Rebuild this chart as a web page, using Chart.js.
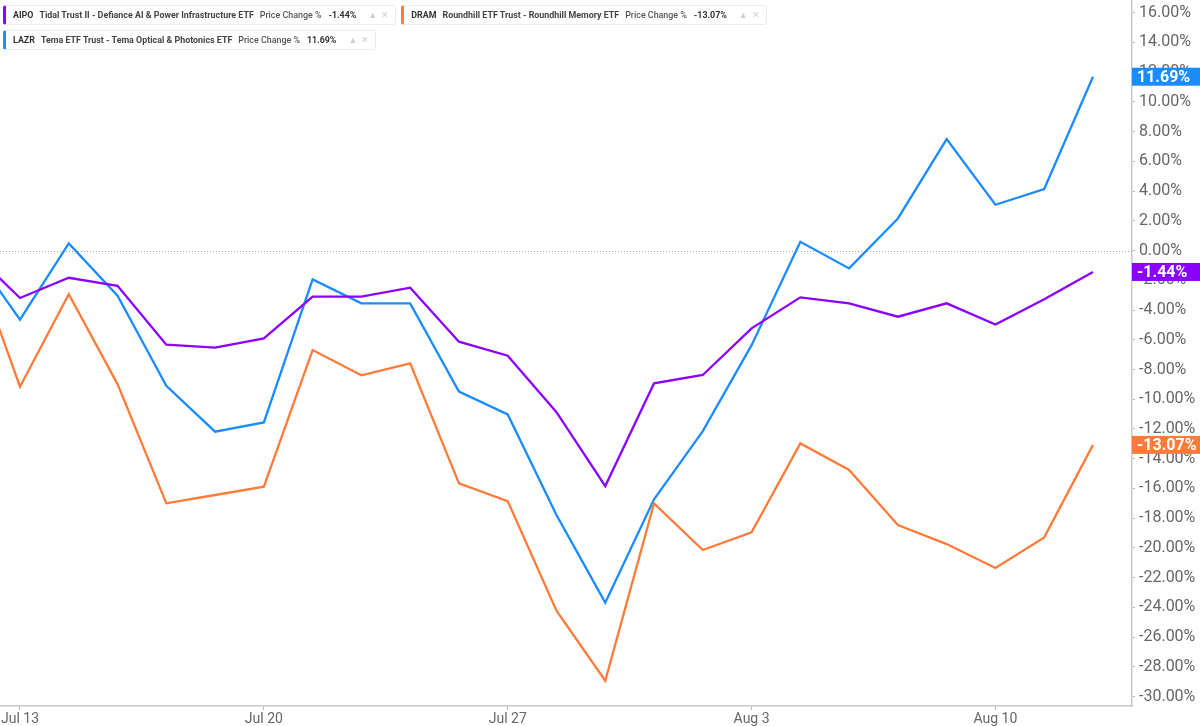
<!DOCTYPE html>
<html>
<head>
<meta charset="utf-8">
<script src="https://cdn.jsdelivr.net/npm/chart.js@4.4.0/dist/chart.umd.min.js"></script>
<style>
  html, body { margin: 0; padding: 0; background: #fff; }
  #wrap { position: relative; width: 1200px; height: 726px; }
  #legend { position: absolute; left: 3px; top: 5px; width: 1100px; font-family: 'Roboto', sans-serif; font-size: 8.9px; }
  .row { display: flex; gap: 5px; margin-bottom: 5px; }
  .item { display: flex; align-items: center; height: 18px; border: 1px solid #ececec; border-left: 3px solid; border-radius: 3px; padding: 0 6px 0 7px; background: #fff; white-space: nowrap; }
  .sym { font-weight: 700; color: #333; margin-right: 6px; }
  .nm { font-weight: 700; color: #444; margin-right: 6px; }
  .pc { font-weight: 500; color: #555; margin-right: 7px; }
  .val { font-weight: 700; color: #333; margin-right: 8px; }
  .ic { color: #cfcfcf; font-size: 9px; margin-left: 4px; }
</style>
</head>
<body>
<div id="wrap">
  <canvas id="chart"></canvas>
  <div id="legend"></div>
</div>
<script>
// dias de pregão (Jul 10 é a base = 0%)
const dates = ['Jul 10', 'Jul 13', 'Jul 14', 'Jul 15', 'Jul 16', 'Jul 17',
    'Jul 20', 'Jul 21', 'Jul 22', 'Jul 23', 'Jul 24',
    'Jul 27', 'Jul 28', 'Jul 29', 'Jul 30', 'Jul 31',
    'Aug 3', 'Aug 4', 'Aug 5', 'Aug 6', 'Aug 7',
    'Aug 10', 'Aug 11', 'Aug 12'];

const aipo = [0, -3.19, -1.83, -2.37, -6.33, -6.53, -5.91, -3.10, -3.10, -2.50, -6.13,
    -7.07, -10.87, -15.84, -8.93, -8.37, -5.23, -3.15, -3.55, -4.45, -3.55, -4.97, -3.28, -1.44];
const dram = [0, -9.16, -2.93, -8.98, -17.00, -16.44, -15.88, -6.69, -8.39, -7.59, -15.66,
    -16.85, -24.22, -28.93, -17.00, -20.14, -18.95, -12.97, -14.76, -18.46, -19.74, -21.35, -19.29, -13.07];
const lazr = [0, -4.65, 0.48, -3.04, -9.09, -12.18, -11.56, -1.94, -3.55, -3.55, -9.49,
    -11.02, -17.79, -23.68, -16.73, -12.14, -6.36, 0.59, -1.20, 2.16, 7.50, 3.08, 4.14, 11.69];

const xTickIdx = [1, 6, 11, 16, 21]; // Jul 13, Jul 20, Jul 27, Aug 3, Aug 10

const series = [
    { sym: 'AIPO', name: 'Tidal Trust II - Defiance AI & Power Infrastructure ETF', data: aipo, color: '#8b00ff' },
    { sym: 'DRAM', name: 'Roundhill ETF Trust - Roundhill Memory ETF', data: dram, color: '#ff7b3a' },
    { sym: 'LAZR', name: 'Tema ETF Trust - Tema Optical & Photonics ETF', data: lazr, color: '#1a8cff' }
];

const fmtPct = v => v.toFixed(2) + '%';

// legenda em HTML (caixinhas no topo)
const legend = document.getElementById('legend');
const rows = [[series[0], series[1]], [series[2]]];
rows.forEach(r => {
    const row = document.createElement('div');
    row.className = 'row';
    r.forEach(s => {
        const last = s.data[s.data.length - 1];
        const it = document.createElement('div');
        it.className = 'item';
        it.style.borderLeftColor = s.color;
        it.innerHTML = '<span class="sym">' + s.sym + '</span><span class="nm">' + s.name +
            '</span><span class="pc">Price Change %</span><span class="val">' + fmtPct(last) +
            '</span><span class="ic">&#9650;</span><span class="ic">&#10005;</span>';
        row.appendChild(it);
    });
    legend.appendChild(row);
});

// linha pontilhada no zero + etiquetas de último valor no eixo
const overlays = {
    id: 'overlays',
    beforeDatasetsDraw(chart) {
        const { ctx, chartArea, scales } = chart;
        const y0 = Math.round(scales.y.getPixelForValue(0)) + 0.5;
        ctx.save();
        ctx.strokeStyle = '#a8a8a8';
        ctx.lineWidth = 1;
        ctx.setLineDash([1, 2]);
        ctx.beginPath();
        ctx.moveTo(chartArea.left, y0);
        ctx.lineTo(chartArea.right, y0);
        ctx.stroke();
        ctx.restore();
    },
    afterDraw(chart) {
        const { ctx, chartArea, scales } = chart;
        ctx.save();
        ctx.font = 'bold 16px Roboto, sans-serif';
        ctx.textBaseline = 'middle';
        series.forEach(s => {
            const last = s.data[s.data.length - 1];
            const y = scales.y.getPixelForValue(last);
            ctx.fillStyle = s.color;
            ctx.fillRect(chartArea.right, y - 9, 1200 - chartArea.right, 18);
            ctx.fillStyle = '#fff';
            ctx.fillText(fmtPct(last), chartArea.right + 5, y + 1);
        });
        ctx.restore();
    }
};

new Chart(document.getElementById('chart'), {
    type: 'line',
    data: {
        datasets: series.map(s => ({
            label: s.sym,
            data: s.data.map((v, i) => ({ x: i, y: v })),
            borderColor: s.color,
            borderWidth: 2.3,
            pointRadius: 0,
            tension: 0,
            clip: 0
        }))
    },
    options: {
        responsive: true,
        maintainAspectRatio: false,
        animation: false,
        layout: { padding: 0 },
        plugins: {
            legend: { display: false },
            tooltip: { enabled: false }
        },
        scales: {
            x: {
                type: 'linear',
                min: 0.59,
                max: 23.8,
                afterBuildTicks: scale => { scale.ticks = xTickIdx.map(v => ({ value: v })); },
                afterFit: scale => {
                    scale.height = 20;
                    scale.paddingLeft = 0;
                    scale.paddingRight = 0;
                },
                ticks: {
                    autoSkip: false,
                    maxRotation: 0,
                    padding: 1,
                    color: '#666',
                    font: { family: 'Roboto, sans-serif', size: 14 },
                    callback: v => dates[v]
                },
                grid: { drawOnChartArea: false, tickLength: 4, color: '#bbb' },
                border: { color: '#c8c8c8', width: 1.5 }
            },
            y: {
                position: 'right',
                min: -30.63,
                max: 16.85,
                afterFit: scale => {
                    scale.width = 68;
                    scale.paddingTop = 0;
                    scale.paddingBottom = 0;
                },
                ticks: {
                    stepSize: 2,
                    includeBounds: false,
                    padding: 4,
                    color: '#666',
                    font: { family: 'Roboto, sans-serif', size: 16 },
                    callback: v => fmtPct(v)
                },
                grid: { drawOnChartArea: false, tickLength: 3, color: '#bbb' },
                border: { color: '#c8c8c8', width: 1.5 }
            }
        }
    },
    plugins: [overlays]
});
</script>
</body>
</html>
